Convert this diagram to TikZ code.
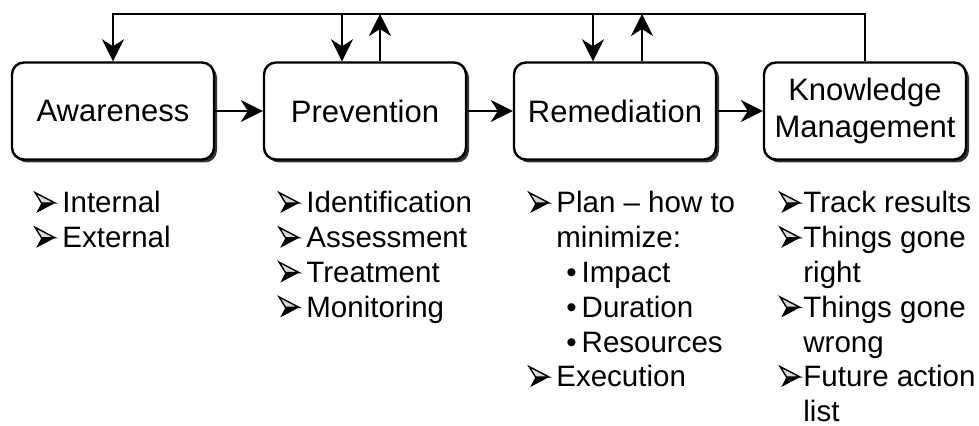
\documentclass[tikz,border=0pt]{standalone}
\usepackage{fontspec}
\setmainfont{Liberation Sans}
\usetikzlibrary{arrows.meta,shadows}
% 3D arrowhead marker for list items
\newcommand{\mrk}{\tikz[baseline=0pt]{
  \fill (10pt,5pt) -- (0.6pt,0pt) -- (3.2pt,5pt) -- cycle;
  \draw[line width=0.7pt,line join=miter,fill=black!15] (10pt,5pt) -- (0pt,10.2pt) -- (3.2pt,5pt) -- cycle;}}
\newcommand{\itm}[1][14pt]{\makebox[#1][l]{\mrk}}
\newcommand{\subitm}{\hspace*{5pt}\textbullet\hspace{2.5pt}}
\begin{document}
\begin{tikzpicture}[x=0.5pt,y=-0.5pt,
  block/.style={draw,line width=1.2pt,rounded corners=6pt,fill=white,
    minimum width=101pt,minimum height=48.5pt,inner sep=0pt,align=center,
    font=\fontsize{15.5}{18.5}\selectfont,
    drop shadow={shadow xshift=1.5pt,shadow yshift=-1.5pt,fill=black!80,opacity=1}},
  arr/.style={line width=1.3pt,-{Stealth[length=11pt,width=11pt,inset=3.5pt]}},
  items/.style={anchor=base west,inner sep=0pt,font=\fontsize{14.75}{17.4}\selectfont}]
\useasboundingbox (0,0) rectangle (979,426);
% Stages
\node[block] (aw) at (113,111){Awareness};
\node[block] (pv) at (365,111){Prevention};
\node[block] (rm) at (615,111){Remediation};
\node[block] (km) at (865,111){Knowledge\\Management};
\coordinate (top) at (0,14);
% Flow
\draw[arr] (aw) -- (pv);
\draw[arr] (pv) -- (rm);
\draw[arr] (rm) -- (km);
% Feedback loop
\coordinate (pvin) at ([xshift=-11.5pt]pv.north);
\coordinate (pvout) at ([xshift=7.5pt]pv.north);
\coordinate (rmin) at ([xshift=-11pt]rm.north);
\coordinate (rmout) at ([xshift=13.5pt]rm.north);
\draw[arr] (km.north) |- (aw.north |- top) -- (aw.north);
\draw[arr] (pvin |- top) -- (pvin);
\draw[arr] (pvout) -- (pvout |- top);
\draw[arr] (rmin |- top) -- (rmin);
\draw[arr] (rmout) -- (rmout |- top);
% Item lists
\node[items] (awl) at (34,213){\begin{tabular}[t]{@{}l@{}}
  \itm Internal\\
  \itm External
\end{tabular}};
\node[items] (pvl) at (278,213){\begin{tabular}[t]{@{}l@{}}
  \itm Identification\\
  \itm Assessment\\
  \itm Treatment\\
  \itm Monitoring
\end{tabular}};
\node[items] (rml) at (528,213){\begin{tabular}[t]{@{}l@{}}
  \itm Plan – how to\\
  \hspace*{14pt}minimize:\\
  \hspace*{14pt}\subitm Impact\\
  \hspace*{14pt}\subitm Duration\\
  \hspace*{14pt}\subitm Resources\\
  \itm Execution
\end{tabular}};
\node[items] (kml) at (779,213){\begin{tabular}[t]{@{}l@{}}
  \itm[12pt]Track results\\
  \itm[12pt]Things gone\\
  \hspace*{12pt}right\\
  \itm[12pt]Things gone\\
  \hspace*{12pt}wrong\\
  \itm[12pt]Future action\\
  \hspace*{12pt}list
\end{tabular}};
\end{tikzpicture}
\end{document}
